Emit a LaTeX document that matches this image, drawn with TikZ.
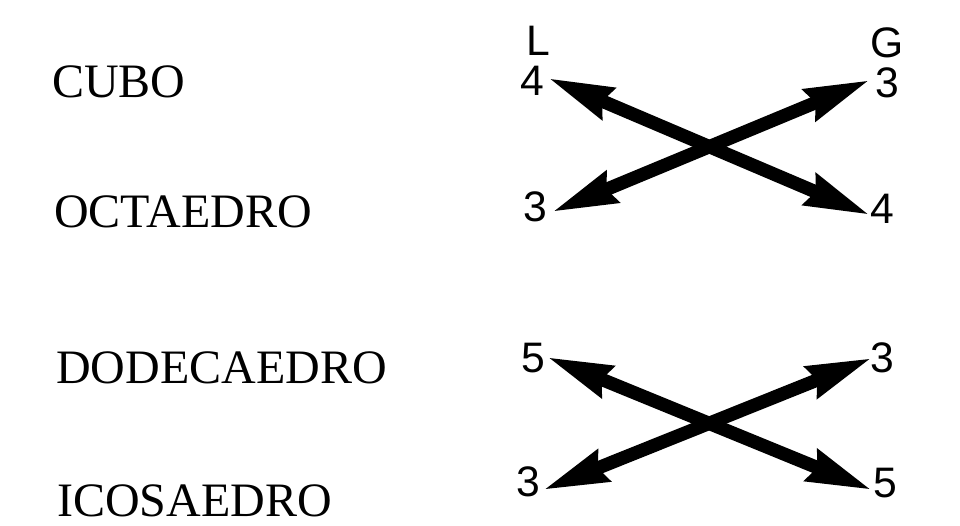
\documentclass[tikz,border=0pt]{standalone}
\usepackage{fontspec}
\setmainfont{Liberation Serif}
\newfontfamily\numfont{Liberation Sans}
\usetikzlibrary{arrows.meta}
\begin{document}
\begin{tikzpicture}[x=0.75pt,y=-0.75pt,
  solidname/.style={anchor=base west,inner sep=0pt,font=\fontsize{36pt}{36pt}\selectfont},
  num/.style={anchor=base west,inner sep=0pt,font=\numfont\fontsize{32pt}{32pt}\selectfont},
  dblarrow/.style={line width=10pt,
    arrows={Stealth[length=48pt,width=24pt,inset=4pt]-Stealth[length=48pt,width=24pt,inset=4pt]}}]
\useasboundingbox (0,0) rectangle (960,525);
% names
\node[solidname] (cubo) at (52,97) {CUBO};
\node[solidname] (octa) at (54,227) {OCTAEDRO};
\node[solidname] (dode) at (56,383) {DODECAEDRO};
\node[solidname] (icosa) at (57,516) {ICOSAEDRO};
% headers
\node[num] (L) at (526,55) {L};
\node[num] (G) at (870,57) {G};
% numbers
\node[num] (l4) at (520,95) {4};
\node[num] (r3) at (875,97) {3};
\node[num] (l3) at (523,221) {3};
\node[num] (r4) at (870,223) {4};
\node[num] (l5) at (521,372) {5};
\node[num] (rt3) at (870,372) {3};
\node[num] (lb3) at (516,496) {3};
\node[num] (r5) at (873,497) {5};
% arrows
\draw[dblarrow] ([shift={(28,-17)}]l4.base west) -- ([shift={(0,-8)}]r4.base west);
\draw[dblarrow] ([shift={(29,-9)}]l3.base west) -- ([shift={(-5,-17)}]r3.base west);
\draw[dblarrow] ([shift={(26,-15)}]l5.base west) -- ([shift={(-1,-7)}]r5.base west);
\draw[dblarrow] ([shift={(27,-6)}]lb3.base west) -- ([shift={(2,-14)}]rt3.base west);
\end{tikzpicture}
\end{document}
